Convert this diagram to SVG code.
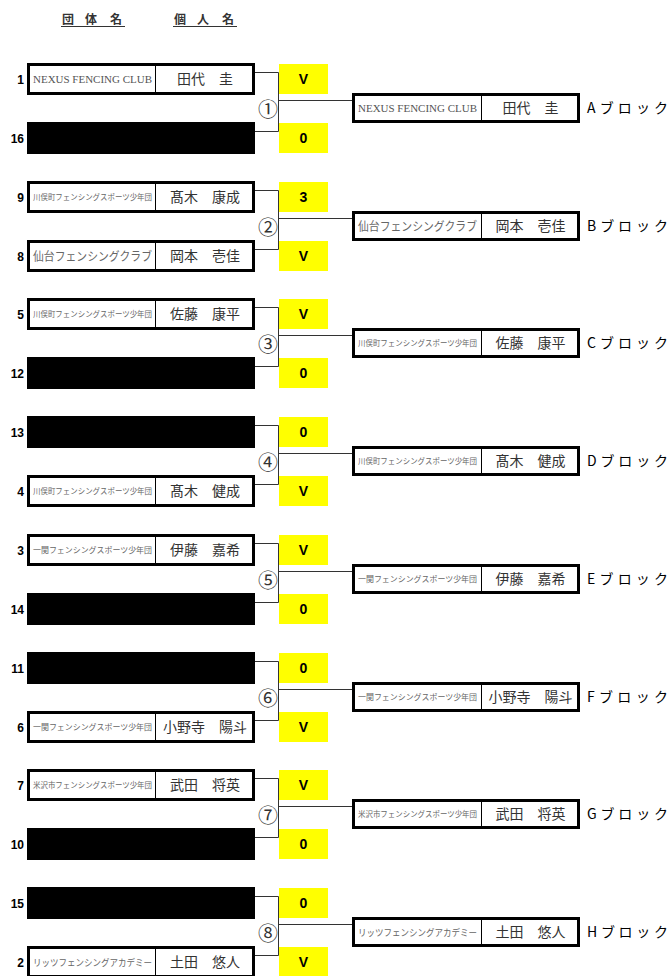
<svg xmlns="http://www.w3.org/2000/svg" width="671" height="976" viewBox="0 0 671 976">
<style>
.box{fill:#fff;stroke:#000;stroke-width:3}
.div{stroke:#000;stroke-width:1}
.blk{fill:#000}
.seed{font-family:"Liberation Sans",Arial,sans-serif;font-weight:bold;font-size:12px;text-anchor:end;fill:#000}
.team{font-family:"Noto Sans CJK JP",sans-serif;fill:#666}
.teamE{font-family:"Liberation Serif",serif;font-size:11px;fill:#555}
.name{font-family:"Noto Sans CJK JP",sans-serif;font-size:14px;fill:#333;text-anchor:middle}
.yl{fill:#ffff00}
.sc{font-family:"Liberation Sans",Arial,sans-serif;font-weight:bold;font-size:14px;text-anchor:middle;fill:#000}
.num{font-family:"Noto Sans CJK JP",sans-serif;font-size:20px;text-anchor:middle;fill:#333}
.lab{font-family:"Noto Sans CJK JP",sans-serif;font-size:14px;fill:#000}
.hd{font-family:"Noto Sans CJK JP",sans-serif;font-size:12px;font-weight:bold;fill:#333}
.ul{stroke:#333;stroke-width:1}
.conn{fill:none;stroke:#333;stroke-width:1}
</style>
<g id="header">
<text class="hd" x="62 74 85 97 110" y="24">団 体 名</text>
<line class="ul" x1="61" y1="26.5" x2="125" y2="26.5"/>
<text class="hd" x="174 186 197 210 222" y="24">個 人 名</text>
<line class="ul" x1="173" y1="26.5" x2="237" y2="26.5"/>
</g>
<g id="connectors">
<path class="conn" d="M255 72.5H278.5V131.5H255M278.5 100.5H352"/>
<path class="conn" d="M255 190.5H278.5V249.5H255M278.5 218.5H352"/>
<path class="conn" d="M255 307.5H278.5V366.5H255M278.5 335.5H352"/>
<path class="conn" d="M255 425.5H278.5V484.5H255M278.5 453.5H352"/>
<path class="conn" d="M255 543.5H278.5V602.5H255M278.5 571.5H352"/>
<path class="conn" d="M255 661.5H278.5V720.5H255M278.5 689.5H352"/>
<path class="conn" d="M255 778.5H278.5V837.5H255M278.5 806.5H352"/>
<path class="conn" d="M255 896.5H278.5V955.5H255M278.5 924.5H352"/>
</g>
<g id="match-numbers">
<text class="num" x="268" y="117">①</text>
<text class="num" x="268" y="235">②</text>
<text class="num" x="268" y="352">③</text>
<text class="num" x="268" y="470">④</text>
<text class="num" x="268" y="588">⑤</text>
<text class="num" x="268" y="706">⑥</text>
<text class="num" x="268" y="823">⑦</text>
<text class="num" x="268" y="941">⑧</text>
</g>
<g id="scores">
<rect class="yl" x="279" y="64" width="49" height="30"/><text class="sc" x="303.5" y="84">V</text>
<rect class="yl" x="279" y="123" width="49" height="30"/><text class="sc" x="303.5" y="143">0</text>
<rect class="yl" x="279" y="182" width="49" height="30"/><text class="sc" x="303.5" y="202">3</text>
<rect class="yl" x="279" y="241" width="49" height="30"/><text class="sc" x="303.5" y="261">V</text>
<rect class="yl" x="279" y="299" width="49" height="30"/><text class="sc" x="303.5" y="319">V</text>
<rect class="yl" x="279" y="358" width="49" height="30"/><text class="sc" x="303.5" y="378">0</text>
<rect class="yl" x="279" y="417" width="49" height="30"/><text class="sc" x="303.5" y="437">0</text>
<rect class="yl" x="279" y="476" width="49" height="30"/><text class="sc" x="303.5" y="496">V</text>
<rect class="yl" x="279" y="535" width="49" height="30"/><text class="sc" x="303.5" y="555">V</text>
<rect class="yl" x="279" y="594" width="49" height="30"/><text class="sc" x="303.5" y="614">0</text>
<rect class="yl" x="279" y="653" width="49" height="30"/><text class="sc" x="303.5" y="673">0</text>
<rect class="yl" x="279" y="712" width="49" height="30"/><text class="sc" x="303.5" y="732">V</text>
<rect class="yl" x="279" y="770" width="49" height="30"/><text class="sc" x="303.5" y="790">V</text>
<rect class="yl" x="279" y="829" width="49" height="30"/><text class="sc" x="303.5" y="849">0</text>
<rect class="yl" x="279" y="888" width="49" height="30"/><text class="sc" x="303.5" y="908">0</text>
<rect class="yl" x="279" y="947" width="49" height="30"/><text class="sc" x="303.5" y="967">V</text>
</g>
<!-- Match 1 -->
<g id="seed-1" transform="translate(0,63)">
<text class="seed" x="24" y="21">1</text>
<rect class="box" x="28.5" y="1.5" width="225" height="29"/>
<line class="div" x1="155.5" y1="1.5" x2="155.5" y2="30.5"/>
<text class="teamE" x="33" y="20" textLength="119" lengthAdjust="spacingAndGlyphs">NEXUS FENCING CLUB</text>
<text class="name" x="205" y="21">田代　圭</text>
</g>
<g id="seed-16" transform="translate(0,122)">
<text class="seed" x="24" y="21">16</text>
<rect class="blk" x="27" y="0" width="228" height="32"/>
</g>
<g id="winner-A" transform="translate(0,93)">
<rect class="box" x="353.5" y="1.5" width="225" height="27"/>
<line class="div" x1="481.5" y1="1.5" x2="481.5" y2="28.5"/>
<text class="teamE" x="358" y="19" textLength="119" lengthAdjust="spacingAndGlyphs">NEXUS FENCING CLUB</text>
<text class="name" x="530.5" y="20">田代　圭</text>
<text class="lab" x="587" y="20" textLength="81" lengthAdjust="spacing">Aブロック</text>
</g>
<!-- Match 2 -->
<g id="seed-9" transform="translate(0,181)">
<text class="seed" x="24" y="21">9</text>
<rect class="box" x="28.5" y="1.5" width="225" height="29"/>
<line class="div" x1="155.5" y1="1.5" x2="155.5" y2="30.5"/>
<text class="team" x="33" y="19" font-size="8" textLength="119" lengthAdjust="spacingAndGlyphs">川俣町フェンシングスポーツ少年団</text>
<text class="name" x="205" y="21">髙木　康成</text>
</g>
<g id="seed-8" transform="translate(0,240)">
<text class="seed" x="24" y="21">8</text>
<rect class="box" x="28.5" y="1.5" width="225" height="29"/>
<line class="div" x1="155.5" y1="1.5" x2="155.5" y2="30.5"/>
<text class="team" x="33" y="20.5" font-size="12" textLength="119" lengthAdjust="spacingAndGlyphs">仙台フェンシングクラブ</text>
<text class="name" x="205" y="21">岡本　壱佳</text>
</g>
<g id="winner-B" transform="translate(0,211)">
<rect class="box" x="353.5" y="1.5" width="225" height="27"/>
<line class="div" x1="481.5" y1="1.5" x2="481.5" y2="28.5"/>
<text class="team" x="358" y="19.5" font-size="12" textLength="119" lengthAdjust="spacingAndGlyphs">仙台フェンシングクラブ</text>
<text class="name" x="530.5" y="20">岡本　壱佳</text>
<text class="lab" x="587" y="20" textLength="81" lengthAdjust="spacing">Bブロック</text>
</g>
<!-- Match 3 -->
<g id="seed-5" transform="translate(0,298)">
<text class="seed" x="24" y="21">5</text>
<rect class="box" x="28.5" y="1.5" width="225" height="29"/>
<line class="div" x1="155.5" y1="1.5" x2="155.5" y2="30.5"/>
<text class="team" x="33" y="19" font-size="8" textLength="119" lengthAdjust="spacingAndGlyphs">川俣町フェンシングスポーツ少年団</text>
<text class="name" x="205" y="21">佐藤　康平</text>
</g>
<g id="seed-12" transform="translate(0,357)">
<text class="seed" x="24" y="21">12</text>
<rect class="blk" x="27" y="0" width="228" height="32"/>
</g>
<g id="winner-C" transform="translate(0,328)">
<rect class="box" x="353.5" y="1.5" width="225" height="27"/>
<line class="div" x1="481.5" y1="1.5" x2="481.5" y2="28.5"/>
<text class="team" x="358" y="18" font-size="8" textLength="119" lengthAdjust="spacingAndGlyphs">川俣町フェンシングスポーツ少年団</text>
<text class="name" x="530.5" y="20">佐藤　康平</text>
<text class="lab" x="587" y="20" textLength="81" lengthAdjust="spacing">Cブロック</text>
</g>
<!-- Match 4 -->
<g id="seed-13" transform="translate(0,416)">
<text class="seed" x="24" y="21">13</text>
<rect class="blk" x="27" y="0" width="228" height="32"/>
</g>
<g id="seed-4" transform="translate(0,475)">
<text class="seed" x="24" y="21">4</text>
<rect class="box" x="28.5" y="1.5" width="225" height="29"/>
<line class="div" x1="155.5" y1="1.5" x2="155.5" y2="30.5"/>
<text class="team" x="33" y="19" font-size="8" textLength="119" lengthAdjust="spacingAndGlyphs">川俣町フェンシングスポーツ少年団</text>
<text class="name" x="205" y="21">髙木　健成</text>
</g>
<g id="winner-D" transform="translate(0,446)">
<rect class="box" x="353.5" y="1.5" width="225" height="27"/>
<line class="div" x1="481.5" y1="1.5" x2="481.5" y2="28.5"/>
<text class="team" x="358" y="18" font-size="8" textLength="119" lengthAdjust="spacingAndGlyphs">川俣町フェンシングスポーツ少年団</text>
<text class="name" x="530.5" y="20">髙木　健成</text>
<text class="lab" x="587" y="20" textLength="81" lengthAdjust="spacing">Dブロック</text>
</g>
<!-- Match 5 -->
<g id="seed-3" transform="translate(0,534)">
<text class="seed" x="24" y="21">3</text>
<rect class="box" x="28.5" y="1.5" width="225" height="29"/>
<line class="div" x1="155.5" y1="1.5" x2="155.5" y2="30.5"/>
<text class="team" x="33" y="19" font-size="8" textLength="119" lengthAdjust="spacingAndGlyphs">一関フェンシングスポーツ少年団</text>
<text class="name" x="205" y="21">伊藤　嘉希</text>
</g>
<g id="seed-14" transform="translate(0,593)">
<text class="seed" x="24" y="21">14</text>
<rect class="blk" x="27" y="0" width="228" height="32"/>
</g>
<g id="winner-E" transform="translate(0,564)">
<rect class="box" x="353.5" y="1.5" width="225" height="27"/>
<line class="div" x1="481.5" y1="1.5" x2="481.5" y2="28.5"/>
<text class="team" x="358" y="18" font-size="8" textLength="119" lengthAdjust="spacingAndGlyphs">一関フェンシングスポーツ少年団</text>
<text class="name" x="530.5" y="20">伊藤　嘉希</text>
<text class="lab" x="587" y="20" textLength="81" lengthAdjust="spacing">Eブロック</text>
</g>
<!-- Match 6 -->
<g id="seed-11" transform="translate(0,652)">
<text class="seed" x="24" y="21">11</text>
<rect class="blk" x="27" y="0" width="228" height="32"/>
</g>
<g id="seed-6" transform="translate(0,711)">
<text class="seed" x="24" y="21">6</text>
<rect class="box" x="28.5" y="1.5" width="225" height="29"/>
<line class="div" x1="155.5" y1="1.5" x2="155.5" y2="30.5"/>
<text class="team" x="33" y="19" font-size="8" textLength="119" lengthAdjust="spacingAndGlyphs">一関フェンシングスポーツ少年団</text>
<text class="name" x="205" y="21">小野寺　陽斗</text>
</g>
<g id="winner-F" transform="translate(0,682)">
<rect class="box" x="353.5" y="1.5" width="225" height="27"/>
<line class="div" x1="481.5" y1="1.5" x2="481.5" y2="28.5"/>
<text class="team" x="358" y="18" font-size="8" textLength="119" lengthAdjust="spacingAndGlyphs">一関フェンシングスポーツ少年団</text>
<text class="name" x="530.5" y="20">小野寺　陽斗</text>
<text class="lab" x="587" y="20" textLength="81" lengthAdjust="spacing">Fブロック</text>
</g>
<!-- Match 7 -->
<g id="seed-7" transform="translate(0,769)">
<text class="seed" x="24" y="21">7</text>
<rect class="box" x="28.5" y="1.5" width="225" height="29"/>
<line class="div" x1="155.5" y1="1.5" x2="155.5" y2="30.5"/>
<text class="team" x="33" y="19" font-size="8" textLength="119" lengthAdjust="spacingAndGlyphs">米沢市フェンシングスポーツ少年団</text>
<text class="name" x="205" y="21">武田　将英</text>
</g>
<g id="seed-10" transform="translate(0,828)">
<text class="seed" x="24" y="21">10</text>
<rect class="blk" x="27" y="0" width="228" height="32"/>
</g>
<g id="winner-G" transform="translate(0,799)">
<rect class="box" x="353.5" y="1.5" width="225" height="27"/>
<line class="div" x1="481.5" y1="1.5" x2="481.5" y2="28.5"/>
<text class="team" x="358" y="18" font-size="8" textLength="119" lengthAdjust="spacingAndGlyphs">米沢市フェンシングスポーツ少年団</text>
<text class="name" x="530.5" y="20">武田　将英</text>
<text class="lab" x="587" y="20" textLength="81" lengthAdjust="spacing">Gブロック</text>
</g>
<!-- Match 8 -->
<g id="seed-15" transform="translate(0,887)">
<text class="seed" x="24" y="21">15</text>
<rect class="blk" x="27" y="0" width="228" height="32"/>
</g>
<g id="seed-2" transform="translate(0,946)">
<text class="seed" x="24" y="21">2</text>
<rect class="box" x="28.5" y="1.5" width="225" height="29"/>
<line class="div" x1="155.5" y1="1.5" x2="155.5" y2="30.5"/>
<text class="team" x="33" y="19.5" font-size="9.5" textLength="119" lengthAdjust="spacingAndGlyphs">リッツフェンシングアカデミー</text>
<text class="name" x="205" y="21">土田　悠人</text>
</g>
<g id="winner-H" transform="translate(0,917)">
<rect class="box" x="353.5" y="1.5" width="225" height="27"/>
<line class="div" x1="481.5" y1="1.5" x2="481.5" y2="28.5"/>
<text class="team" x="358" y="18.5" font-size="9.5" textLength="119" lengthAdjust="spacingAndGlyphs">リッツフェンシングアカデミー</text>
<text class="name" x="530.5" y="20">土田　悠人</text>
<text class="lab" x="587" y="20" textLength="81" lengthAdjust="spacing">Hブロック</text>
</g>
</svg>
